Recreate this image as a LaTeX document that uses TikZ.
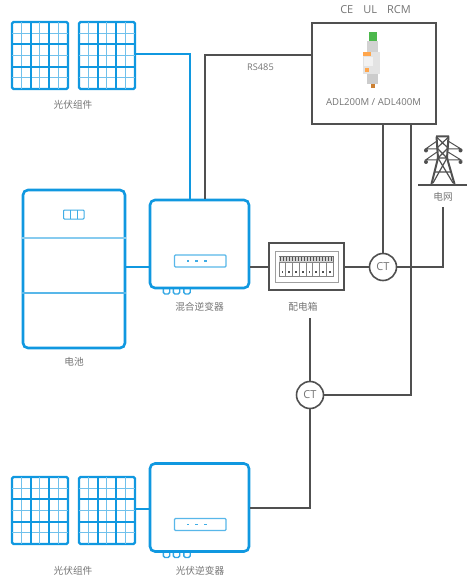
\documentclass[tikz,border=0pt]{standalone}
\usepackage{fontspec}
\setmainfont{Open Sans}
\newfontfamily\cjk{Noto Sans CJK SC}
\usepackage{tikz}
\definecolor{panelblue}{HTML}{1098E0}
\definecolor{wiregray}{HTML}{505050}
\definecolor{labelgray}{HTML}{747474}
\tikzset{
  bluewire/.style={draw=panelblue, line width=2.3pt},
  graywire/.style={draw=wiregray, line width=2.3pt},
  caption/.style={font=\cjk\fontsize{9.7}{10}\selectfont, text=labelgray, inner sep=0pt},
  latintext/.style={font=\fontsize{9.6}{10}\selectfont, text=labelgray, inner sep=0pt},
  blueunit/.style={draw=panelblue, line width=2.6pt, rounded corners=5pt, fill=white, inner sep=0pt},
  pvpanel/.style={draw=panelblue, line width=2.4pt, rounded corners=1.5pt, inner sep=0pt, minimum width=56pt, minimum height=67pt},
  ctnode/.style={circle, draw=wiregray, line width=1.6pt, fill=white, minimum size=27pt, inner sep=0pt,
    font=\fontsize{11}{11}\selectfont, text=labelgray},
}

\begin{document}
\begin{tikzpicture}[x=1pt, y=-1pt]
\useasboundingbox (0,0) rectangle (474,577);

% ---- pv panels ----
\foreach \n/\px/\py in {pva/40/55.5, pvb/107/55.5, pvc/40/510.5, pvd/107/510.5} {
  \node[pvpanel] (\n) at (\px,\py) {};
  \foreach \i in {-2.5,-0.5,1.5} {
    \draw[panelblue!60, line width=1pt] (\px+\i*9.33+4.66,\py-33.5) -- (\px+\i*9.33+4.66,\py+33.5);
    \draw[panelblue!60, line width=1pt] (\px-28,\py+\i*11.17+5.58) -- (\px+28,\py+\i*11.17+5.58);
  }
  \foreach \i in {-1,1} {
    \draw[panelblue, line width=2pt] (\px+\i*9.33,\py-33.5) -- (\px+\i*9.33,\py+33.5);
    \draw[panelblue, line width=2pt] (\px-28,\py+\i*11.17) -- (\px+28,\py+\i*11.17);
  }
}
\node[caption] (pvlabela) at (73,104.5) {光伏组件};
\node[caption] (pvlabelb) at (73,571) {光伏组件};

% ---- battery ----
\node[blueunit, minimum width=102pt, minimum height=158pt] (battery) at (74,269) {};
\draw[panelblue!50, line width=1.3pt] (battery.west |- 0,238) -- (battery.east |- 0,238);
\draw[panelblue!70, line width=1.2pt] (battery.west |- 0,293) -- (battery.east |- 0,293);
\draw[panelblue!80, line width=1pt, rounded corners=0.8pt] (63.5,210) rectangle (84,219);
\draw[panelblue!80, line width=1pt] (70.3,210) -- (70.3,219) (77.2,210) -- (77.2,219);
\node[caption] (batterylabel) at (74,362) {电池};

% ---- inverters ----
\foreach \n/\py in {hybrid/244, pvinv/507.5} {
  \foreach \fx in {166.5,176.5,187} {
    \draw[panelblue!85, line width=1.4pt, rounded corners=1.5pt] (\fx-3.2,\py+42) rectangle (\fx+3.2,\py+50);
  }
  \node[blueunit, minimum width=99pt, minimum height=88pt] (\n) at (199.5,\py) {};
  \draw[panelblue!70, line width=1.1pt, rounded corners=1pt] (174.5,\py+11) rectangle (226,\py+23);
  \foreach \dx in {186.5,195,204} {
    \fill[panelblue!80] (\dx,\py+16.4) rectangle ++(2.6,1.3);
  }
}
\node[caption] (hybridlabel) at (199.5,307) {混合逆变器};
\node[caption] (pvinvlabel) at (200,571) {光伏逆变器};

% ---- distribution box ----
\node[draw=wiregray, line width=2.6pt, fill=white, inner sep=0pt, minimum width=75pt, minimum height=47pt] (distbox) at (306.5,266.5) {};
\draw[wiregray!55, line width=1pt] (275,251) rectangle (338,282);
\draw[wiregray!80, line width=0.7pt] (279,256.5) rectangle (333,276);
\fill[wiregray!25] (279,256.5) rectangle (333,262);
\foreach \k in {0,...,17} {
  \fill[wiregray] (279.6+\k*3,257) rectangle ++(1.5,4);
}
\foreach \k in {0,...,7} {
  \draw[wiregray!70, line width=0.6pt] (279+\k*6.75,262) rectangle ++(6.75,14);
  \fill[wiregray] (281.6+\k*6.75,271) rectangle ++(1.7,1.7);
}
\node[caption] (distlabel) at (303,307) {配电箱};
\coordinate (distdrop) at (310,318);

% ---- meter ----
\node[draw=wiregray, line width=2.8pt, fill=white, inner sep=0pt, minimum width=124pt, minimum height=101pt] (meter) at (374,73.5) {};
\fill[green!60!black!70!white] (369,32.5) rectangle (377,41);
\fill[gray!35] (367,41) rectangle (377.5,53);
\fill[gray!22] (362.5,52) rectangle (379.5,74);
\fill[orange!70] (363,52.5) rectangle (370.5,56);
\fill[gray!10] (364,57) rectangle (373,66);
\fill[orange!70] (365,68) rectangle (369,72);
\fill[gray!40] (367,74) rectangle (378,84);
\fill[orange!60!gray] (371,84) rectangle (375,88);
\node[latintext] (metername) at (373.5,102) {ADL200M / ADL400M};
\node[latintext, font=\fontsize{11}{11}\selectfont] (marks) at (375.5,10) {CE\hspace{10pt}UL\hspace{10pt}RCM};
\node[latintext, font=\fontsize{9.2}{10}\selectfont] (rslabel) at (260.5,67) {RS485};

% ---- grid tower ----
\draw[wiregray, line width=2.3pt] (418,185) -- (467,185);
\draw[wiregray, line width=2pt] (436,136.5) -- (449,136.5)
  (436.5,136.5) -- (438,158) -- (431.5,184) (448.5,136.5) -- (447,158) -- (454.5,184);
\draw[wiregray, line width=1.2pt]
  (436.5,137) -- (448,148) -- (438,158) -- (447,158) -- (437,148) -- (448.5,137)
  (438,158) -- (453,183) (447,158) -- (433,183) (434,172) -- (451,172);
\draw[wiregray, line width=1pt] (437,141) -- (425.5,149) -- (438,149) (448,141) -- (461,149) -- (447,149)
  (437,152) -- (425.5,160) -- (438,160) (448,152) -- (461,160) -- (447,160);
\foreach \tx/\ty in {426/150.5,460.5/150.5,426/162,460.5/162} {
  \fill[wiregray] (\tx,\ty) circle (2pt);
}
\node[caption] (gridlabel) at (443,197) {电网};
\coordinate (gridend) at (443,207);

% ---- current transformers ----
\node[ctnode] (cta) at (383,267) {CT};
\node[ctnode] (ctb) at (310,395) {CT};
\coordinate (tapa) at (411,124);

% ---- wires ----
\draw[bluewire] (pvb.east |- 0,54) -| (hybrid.north -| 190,0);
\draw[bluewire] (battery.east |- 0,267) -- (hybrid.west |- 0,267);
\draw[bluewire] (pvd.east |- 0,509) -- (pvinv.west |- 0,509);
\draw[graywire] (meter.west |- 0,55) -| (hybrid.north -| 205,0);
\draw[graywire] (hybrid.east |- 0,267) -- (distbox.west |- 0,267);
\draw[graywire] (distbox.east |- 0,267) -- (cta);
\draw[graywire] (cta) -| (gridend);
\draw[graywire] (cta) -- (cta |- meter.south);
\draw[graywire] (ctb) -| (tapa);
\draw[graywire] (ctb) -- (distdrop);
\draw[graywire] (ctb) |- (pvinv.east |- 0,508);

\end{tikzpicture}
\end{document}
